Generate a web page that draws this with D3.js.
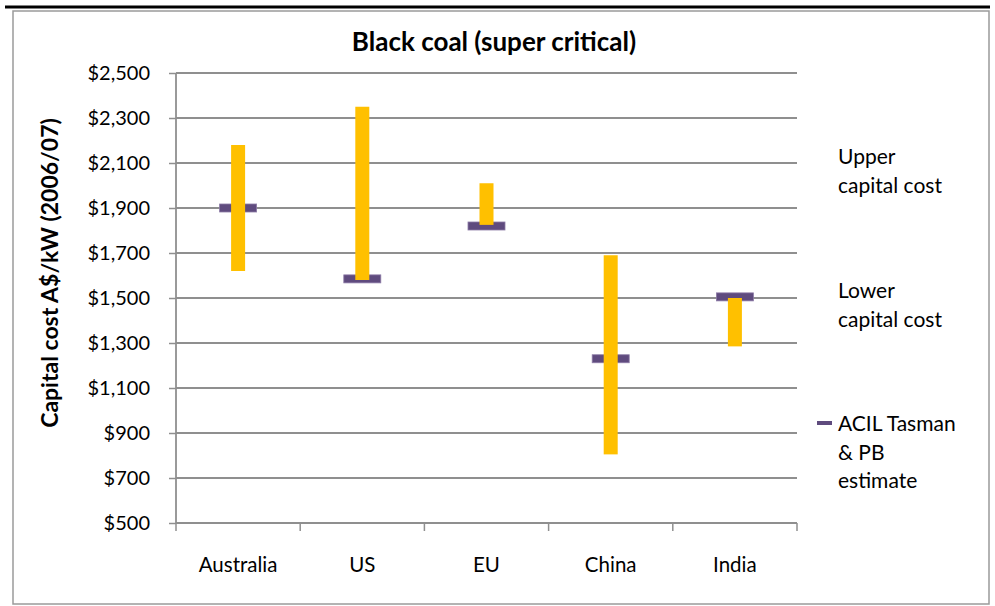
<!DOCTYPE html>
<html>
<head>
<meta charset="utf-8">
<script src="https://cdn.jsdelivr.net/npm/d3@7"></script>
<style>
  html, body { margin: 0; padding: 0; background: #fff; }
  svg { display: block; font-family: Lato, "Open Sans", sans-serif; }
</style>
</head>
<body>
<svg id="chart" width="995" height="606"></svg>
<script>
// Capital cost ranges for super critical black coal plants, A$/kW (2006/07)
const categories = ["Australia", "US", "EU", "China", "India"];
const upperCost  = [2180, 2350, 2010, 1690, 1500];
const lowerCost  = [1620, 1580, 1825, 805, 1285];
const estimate   = [1900, 1585, 1820, 1230, 1505];
const yTicks     = [500, 700, 900, 1100, 1300, 1500, 1700, 1900, 2100, 2300, 2500];
const legendItems = [
  { lines: ["Upper", "capital cost"], marker: false },
  { lines: ["Lower", "capital cost"], marker: false },
  { lines: ["ACIL Tasman", "& PB", "estimate"], marker: true }
];

const rows = categories.map((c, i) => ({
  cat: c, hi: upperCost[i], lo: lowerCost[i], est: estimate[i]
}));

const svg = d3.select("#chart");
const plot = { left: 176, right: 797, top: 73, bottom: 523 };
const gridColor = "#8f8f8f";
const barColor = "#FFC000";
const estColor = "#5F4B7E";

// Outer rule and frame
svg.append("line")
  .attr("x1", 5).attr("x2", 990).attr("y1", 7).attr("y2", 7)
  .attr("stroke", "#000").attr("stroke-width", 3);
svg.append("rect")
  .attr("x", 13).attr("y", 11).attr("width", 976).attr("height", 593)
  .attr("fill", "#fff").attr("stroke", "#9a9a9a").attr("stroke-width", 1.5);

const x = d3.scaleBand().domain(categories).range([plot.left, plot.right]);
const y = d3.scaleLinear().domain([500, 2500]).range([plot.bottom, plot.top]);

// Horizontal gridlines
svg.append("g").selectAll("line")
  .data(yTicks.filter(t => t !== 500))
  .join("line")
  .attr("x1", plot.left).attr("x2", plot.right)
  .attr("y1", d => y(d)).attr("y2", d => y(d))
  .attr("stroke", gridColor).attr("stroke-width", 1.8);

// Y axis
const yAxis = d3.axisLeft(y)
  .tickValues(yTicks)
  .tickFormat(d3.format("$,"))
  .tickSize(7)
  .tickPadding(19);
const gy = svg.append("g").attr("transform", `translate(${plot.left},0)`).call(yAxis);
gy.attr("font-family", "Lato, sans-serif").attr("font-size", 20);
gy.select(".domain").attr("stroke", gridColor).attr("stroke-width", 1.8)
  .attr("d", `M0,${plot.top}V${plot.bottom}`);
gy.selectAll(".tick line").attr("stroke", gridColor).attr("stroke-width", 1.5);
gy.selectAll(".tick text").attr("fill", "#000");

// X axis with tick marks at category boundaries
const gx = svg.append("g").attr("transform", `translate(0,${plot.bottom})`);
gx.append("line")
  .attr("x1", plot.left).attr("x2", plot.right)
  .attr("stroke", gridColor).attr("stroke-width", 1.8);
const boundaries = categories.map(c => x(c)).concat([x.range()[1]]);
gx.selectAll(".bt").data(boundaries).join("line")
  .attr("class", "bt")
  .attr("x1", d => d).attr("x2", d => d)
  .attr("y1", 0).attr("y2", 8)
  .attr("stroke", gridColor).attr("stroke-width", 1.5);
gx.selectAll("text").data(categories).join("text")
  .attr("x", d => x(d) + x.bandwidth() / 2)
  .attr("y", 49)
  .attr("text-anchor", "middle")
  .attr("font-size", 20.5)
  .attr("fill", "#000")
  .text(d => d);

// Estimate dashes
const dashW = 37, dashH = 8, barW = 14;
svg.append("g").selectAll("rect")
  .data(rows).join("rect")
  .attr("x", d => x(d.cat) + x.bandwidth() / 2 - dashW / 2)
  .attr("y", d => y(d.est) - dashH / 2)
  .attr("width", dashW).attr("height", dashH)
  .attr("fill", estColor)
  .attr("stroke", "#8c7aa6").attr("stroke-width", 0.8);

// Range bars (lower to upper capital cost)
svg.append("g").selectAll("rect")
  .data(rows).join("rect")
  .attr("x", d => x(d.cat) + x.bandwidth() / 2 - barW / 2)
  .attr("y", d => y(d.hi))
  .attr("width", barW)
  .attr("height", d => y(d.lo) - y(d.hi))
  .attr("fill", barColor);

// Title
svg.append("text")
  .attr("x", 494).attr("y", 51)
  .attr("text-anchor", "middle")
  .attr("font-size", 26).attr("font-weight", 700)
  .attr("fill", "#000")
  .text("Black coal (super critical)");

// Y axis title
svg.append("text")
  .attr("transform", "translate(58,273) rotate(-90)")
  .attr("text-anchor", "middle")
  .attr("font-size", 23).attr("font-weight", 700)
  .attr("fill", "#000")
  .text("Capital cost A$/kW (2006/07)");

// Legend
const legendTop = [164, 298, 431];
const lineH = 28.5;
legendItems.forEach((item, i) => {
  const g = svg.append("g");
  item.lines.forEach((t, j) => {
    g.append("text")
      .attr("x", 838).attr("y", legendTop[i] + j * lineH)
      .attr("font-size", 21).attr("fill", "#000")
      .text(t);
  });
  if (item.marker) {
    g.append("line")
      .attr("x1", 817).attr("x2", 832)
      .attr("y1", legendTop[i] - 8).attr("y2", legendTop[i] - 8)
      .attr("stroke", estColor).attr("stroke-width", 4);
  }
});
</script>
</body>
</html>
